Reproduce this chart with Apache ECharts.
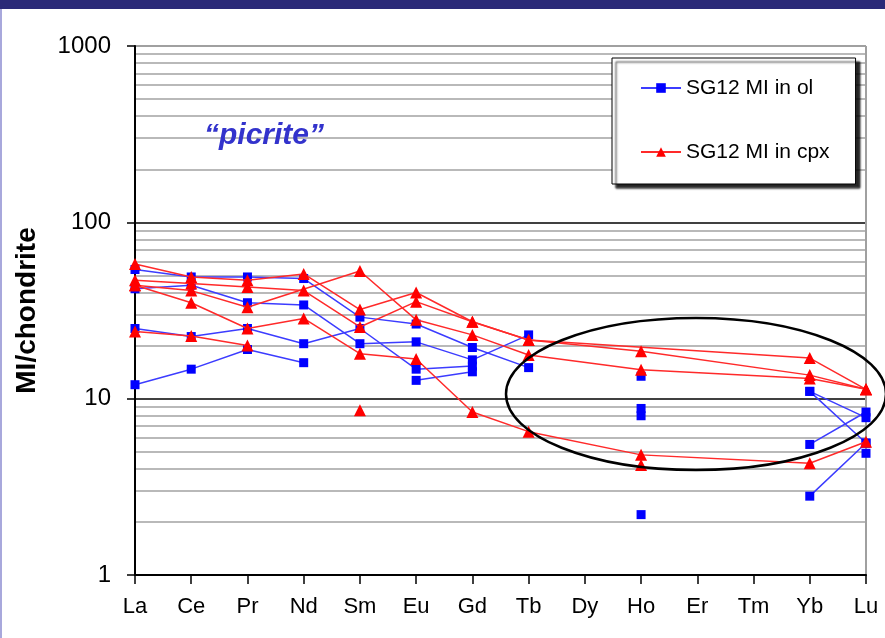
<!DOCTYPE html>
<html><head><meta charset="utf-8">
<script src="https://cdn.jsdelivr.net/npm/echarts@6/dist/echarts.min.js"></script>
<style>html,body{margin:0;padding:0;background:#fff}#c{width:885px;height:638px}</style>
</head><body><div id="c"></div>
<script>
// Categories (REE)
const categories = ['La','Ce','Pr','Nd','Sm','Eu','Gd','Tb','Dy','Ho','Er','Tm','Yb','Lu'];
const yTicks = [1, 10, 100, 1000];
const majorGrid = [10, 100];
const minorGrid = [2,3,4,5,6,7,8,9,20,30,40,50,60,70,80,90,200,300,400,500,600,700,800,900];

// SG12 MI in ol (blue squares)
const olA = [54, 49, 49, 48, 29, 26.5, 19.5, 15, null, 13.4, null, null, 11, 7.8];
const olB = [42, 44, 35, 34, 20.5, 21, 16.6, 23, null, 8.8, null, null, 11, 5.6];
const olC = [25, 22.5, 25, 20.5, 25, 14.7, 15.3, null, null, 8.0, null, null, 5.5, 8.4];
const olD = [12, 14.7, 19, 16, null, 12.7, 14.2, null, null, 2.2, null, null, 2.8, 5.6];
const olE = [null, null, null, null, null, null, null, null, null, null, null, null, null, 4.9];

// SG12 MI in cpx (red triangles)
const cpxA = [58, 49, 47, 51, 32, 40, 27.3, 21.5, null, null, null, null, 17, 11.3];
const cpxB = [47, 45, 43, 41, 25.5, 35.5, 27.3, 21.5, null, 18.6, null, null, 13.6, 11.3];
const cpxC = [44, 41, 33, null, 53, 28, 23, 17.7, null, 14.6, null, null, 13, 11.3];
const cpxD = [44, 35, 25, 28.5, 18, 16.8, 8.4, 6.5, null, 4.8, null, null, 4.3, 5.7];
const cpxE = [24, 22.7, 20, null, null, null, null, null, null, null, null, null, null, null];
const cpxF = [null, null, null, null, 8.6, null, null, null, null, 4.2, null, null, null, null];

const olName = 'SG12 MI in ol';
const cpxName = 'SG12 MI in cpx';
const FONT = 'Liberation Sans, Arial, sans-serif';

function olSeries(d){
  return {name: olName, type:'line', data:d, connectNulls:false, symbol:'rect', symbolSize:9,
    itemStyle:{color:'#0000ff'}, lineStyle:{color:'#3c3cff', width:1.5}, z:5};
}
function cpxSeries(d, connect){
  return {name: cpxName, type:'line', data:d, connectNulls:connect, symbol:'triangle', symbolSize:12,
    itemStyle:{color:'#ff0000'}, lineStyle:{color:'#ff2a2a', width:1.5}, z:6};
}

const chart = echarts.init(document.getElementById('c'), null, {renderer:'canvas'});
chart.setOption({
  animation:false,
  backgroundColor:'#ffffff',
  textStyle:{fontFamily:FONT},
  grid:{left:135, right:19, top:46, bottom:63, containLabel:false},
  legend:{
    data:[olName, cpxName], orient:'vertical', left:612, top:58, z:20,
    padding:[19, 26, 21, 28], itemGap:42, itemWidth:40, itemHeight:12,
    backgroundColor:'#ffffff', borderColor:'#000', borderWidth:1,
    shadowColor:'rgba(0,0,0,0.85)', shadowOffsetX:4, shadowOffsetY:4, shadowBlur:2,
    textStyle:{fontSize:21, color:'#000', fontFamily:FONT, lineHeight:22}
  },
  xAxis:{
    type:'category', data:categories, boundaryGap:false,
    axisLine:{lineStyle:{color:'#000', width:2}},
    axisTick:{show:true, length:9, lineStyle:{color:'#000', width:1.5}},
    axisLabel:{fontSize:22, color:'#000', margin:21, interval:0, fontFamily:FONT},
    splitLine:{show:false}
  },
  yAxis:{
    type:'log', logBase:10, min:1, max:1000,
    name:'MI/chondrite', nameLocation:'middle', nameGap:94,
    nameTextStyle:{fontSize:28, fontWeight:'bold', color:'#000', fontFamily:FONT},
    axisLine:{show:true, lineStyle:{color:'#000', width:2}},
    axisTick:{show:true, length:8, lineStyle:{color:'#000', width:1.5}},
    axisLabel:{fontSize:24, color:'#000', margin:24, fontFamily:FONT,
      formatter:function(v){ return String(Math.round(v)); }},
    splitLine:{show:false}
  },
  graphic:[
    {type:'rect', left:0, top:0, shape:{width:885, height:9}, style:{fill:'#2b2a78'}, z:200},
    {type:'rect', left:0, top:9, shape:{width:2, height:629}, style:{fill:'#a8a8dc'}, z:200},
    {type:'text', left:204, top:121, style:{text:'\u201cpicrite\u201d', fill:'#3333cc', font:'italic bold 30px '+FONT}, z:50},
    {type:'ellipse', shape:{cx:696, cy:394, rx:190, ry:76}, style:{fill:'none', stroke:'#000', lineWidth:2.5}, z:100}
  ],
  series:[
    {name:'grid', type:'line', data:[], silent:true, z:0,
      markLine:{silent:true, z:0, symbol:['none','none'], label:{show:false}, animation:false,
        data:[].concat(
          minorGrid.map(v=>({yAxis:v, lineStyle:{color:'#b9b9b9', width:2, type:'solid'}})),
          majorGrid.map(v=>({yAxis:v, lineStyle:{color:'#000', width:1.5, type:'solid'}})),
          [{yAxis:1000, lineStyle:{color:'#a0a0a0', width:2, type:'solid'}},
           {xAxis:'Lu', lineStyle:{color:'#a0a0a0', width:2, type:'solid'}}]
        )}},
    olSeries(olA), olSeries(olB), olSeries(olC), olSeries(olD), olSeries(olE),
    cpxSeries(cpxA, true), cpxSeries(cpxB, true), cpxSeries(cpxC, true),
    cpxSeries(cpxD, true), cpxSeries(cpxE, true), cpxSeries(cpxF, false)
  ]
});
</script>
</body></html>
